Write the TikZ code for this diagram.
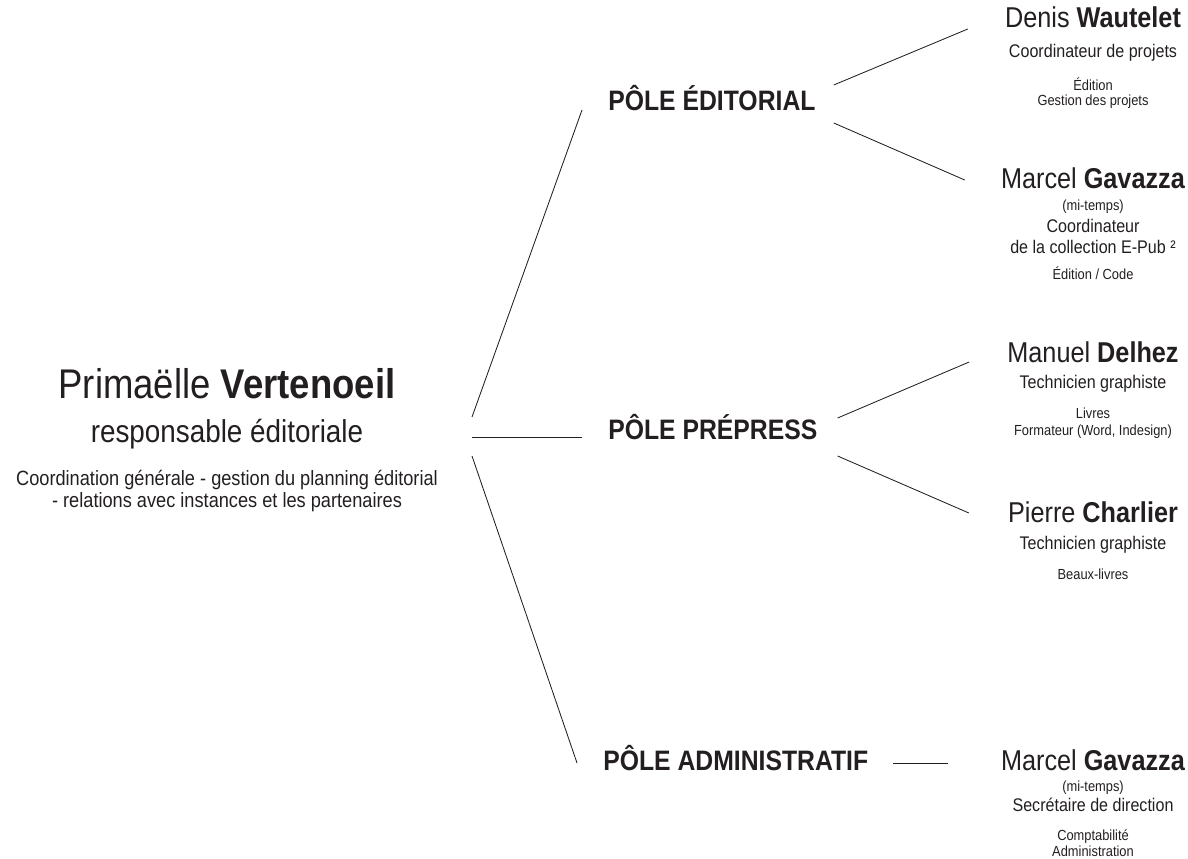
\documentclass[tikz,border=0pt]{standalone}
\usepackage{fontspec}
\setmainfont[FakeStretch=0.88]{Liberation Sans}
\usepackage{xcolor}
\usetikzlibrary{positioning,calc}
\definecolor{ink}{HTML}{231F20}

\begin{document}
\begin{tikzpicture}[x=0.025cm, y=-0.025cm,
    txt/.style={inner sep=0pt, text=ink, text height=0.72em, text depth=0pt},
    bossname/.style={txt, font=\fontsize{29.5}{34}\selectfont},
    bossrole/.style={txt, font=\fontsize{22.5}{26}\selectfont},
    bossdesc/.style={txt, font=\fontsize{14.7}{17}\selectfont},
    pole/.style={txt, anchor=west, font=\fontsize{20}{24}\selectfont\bfseries},
    person/.style={txt, font=\fontsize{20.4}{24}\selectfont},
    job/.style={txt, font=\fontsize{13}{15}\selectfont},
    task/.style={txt, font=\fontsize{10.4}{12}\selectfont},
    link/.style={draw=ink, line width=0.6pt}]

    \useasboundingbox (0,0) rectangle (1188,859);

    % Responsable (left)
    \node[bossname] (boss) at (227,393) {Primaëlle \textbf{Vertenoeil}};
    \node[bossrole] (bossrole) at (227,437) {responsable éditoriale};
    \node[bossdesc] (bossdesc) at (227,480) {Coordination générale - gestion du planning éditorial};
    \node[bossdesc] (bossdescb) at (227,502) {- relations avec instances et les partenaires};
    \coordinate (hub) at (472,437);

    % Poles (middle)
    \node[pole] (edit) at (608,105) {PÔLE ÉDITORIAL};
    \node[pole] (prep) at (608,434) {PÔLE PRÉPRESS};
    \node[pole] (admin) at (603,765) {PÔLE ADMINISTRATIF};

    % Pole editorial: people
    \node[person] (denis) at (1093,22) {Denis \textbf{Wautelet}};
    \node[job] (denisjob) at (1093,52) {Coordinateur de projets};
    \node[task] (denistask) at (1093,85) {Édition};
    \node[task] (denistaskb) at (1093,100) {Gestion des projets};

    \node[person] (marcel) at (1093,183) {Marcel \textbf{Gavazza}};
    \node[task] (marceltime) at (1093,205) {(mi-temps)};
    \node[job] (marceljob) at (1093,227) {Coordinateur};
    \node[job] (marceljobb) at (1093,248) {de la collection E-Pub ²};
    \node[task] (marceltask) at (1093,274) {Édition / Code};

    % Pole prepress: people
    \node[person] (manuel) at (1093,357) {Manuel \textbf{Delhez}};
    \node[job] (manueljob) at (1093,383) {Technicien graphiste};
    \node[task] (manueltask) at (1093,413) {Livres};
    \node[task] (manueltaskb) at (1093,430) {Formateur (Word, Indesign)};

    \node[person] (pierre) at (1093,517) {Pierre \textbf{Charlier}};
    \node[job] (pierrejob) at (1093,544) {Technicien graphiste};
    \node[task] (pierretask) at (1093,574) {Beaux-livres};

    % Pole administratif: people
    \node[person] (marcelb) at (1093,765) {Marcel \textbf{Gavazza}};
    \node[task] (marcelbtime) at (1093,786) {(mi-temps)};
    \node[job] (marcelbjob) at (1093,806) {Secrétaire de direction};
    \node[task] (marcelbtask) at (1093,835) {Comptabilité};
    \node[task] (marcelbtaskb) at (1093,851) {Administration};

    % Connectors: responsable -> poles
    \draw[link] ($(hub)+(0,-20)$) -- ($(edit.west)+(-26,5)$);
    \draw[link] (hub) -- ($(prep.west)+(-26,3)$);
    \draw[link] ($(hub)+(0,19)$) -- ($(admin.west)+(-26,-2)$);

    % Connectors: poles -> people
    \draw[link] ($(edit.east)+(18,-20)$) -- ($(denis.west)+(-37,7)$);
    \draw[link] ($(edit.east)+(18,18)$) -- ($(marcel.west)+(-36,-3)$);
    \draw[link] ($(prep.east)+(20,-16)$) -- ($(manuel.west)+(-38,5)$);
    \draw[link] ($(prep.east)+(20,22)$) -- ($(pierre.west)+(-39,-4)$);
    \draw[link] ($(admin.east)+(25,-2)$) -- ($(marcelb.west)+(-53,-2)$);

\end{tikzpicture}
\end{document}
